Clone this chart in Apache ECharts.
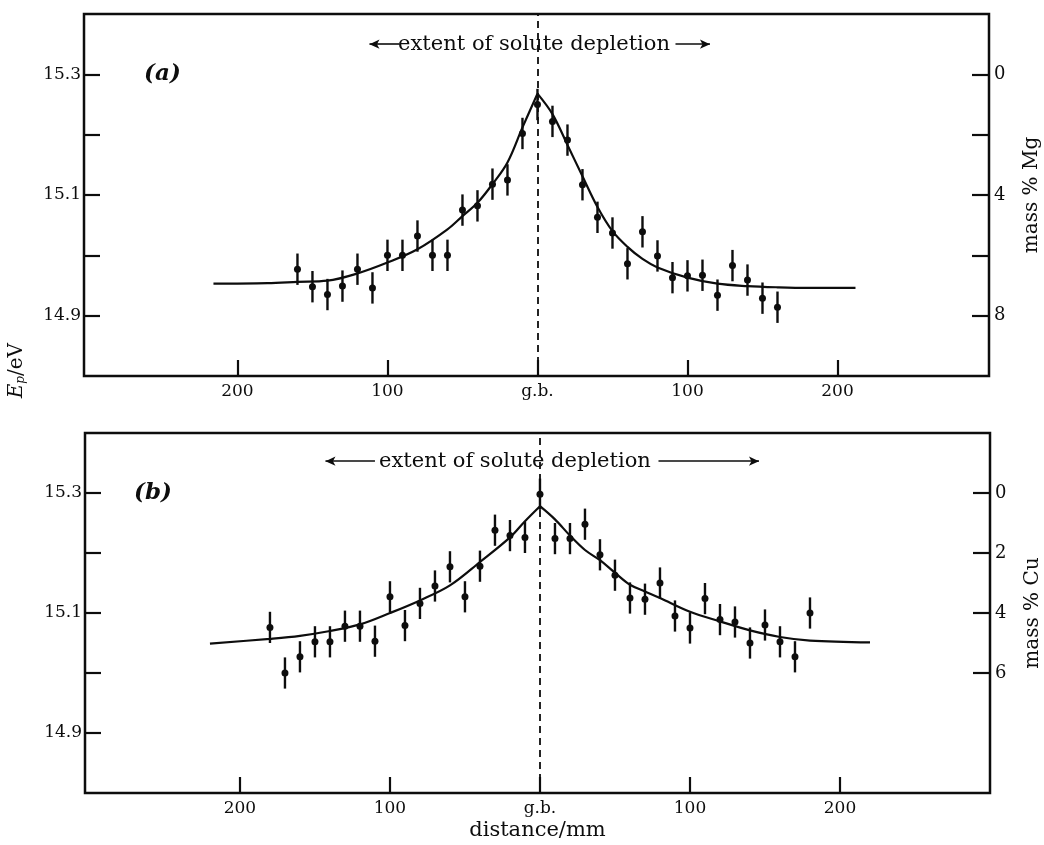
<!DOCTYPE html>
<html><head><meta charset="utf-8">
<script src="https://cdn.jsdelivr.net/npm/echarts@6/dist/echarts.min.js"></script>
<style>html,body{margin:0;padding:0;background:#fff}#c{width:1044px;height:845px}</style>
</head><body><div id="c"></div>
<script>
// ---- data (a): Al-Mg ----
const ptsA_x = [-160,-150,-140,-130,-120,-110,-100,-90,-80,-70,-60,-50,-40,-30,-20,-10,0,10,20,30,40,50,60,70,80,90,100,110,120,130,140,150,160];
const ptsA_y = [14.977,14.948,14.935,14.949,14.977,14.946,15.000,15.000,15.032,15.000,15.000,15.075,15.082,15.118,15.125,15.202,15.250,15.222,15.191,15.117,15.063,15.037,14.986,15.039,14.999,14.963,14.966,14.967,14.934,14.983,14.959,14.929,14.914];
const errA = 0.026;
const curveA_left_x = [-216,-180,-160,-140,-120,-100,-80,-60,-50,-40,-30,-20,-10,0];
const curveA_left_y = [14.953,14.954,14.956,14.958,14.970,14.988,15.010,15.043,15.065,15.087,15.118,15.154,15.212,15.268];
const curveA_right_x = [0,10,20,30,40,50,60,70,80,100,120,140,160,180,212];
const curveA_right_y = [15.268,15.234,15.183,15.131,15.080,15.040,15.014,14.994,14.980,14.963,14.953,14.949,14.947,14.946,14.946];

// ---- data (b): Al-Cu ----
const ptsB_x = [-180,-170,-160,-150,-140,-130,-120,-110,-100,-90,-80,-70,-60,-50,-40,-30,-20,-10,0,10,20,30,40,50,60,70,80,90,100,110,120,130,140,150,160,170,180];
const ptsB_y = [15.076,15.000,15.027,15.052,15.052,15.078,15.078,15.053,15.127,15.079,15.116,15.145,15.177,15.127,15.178,15.238,15.229,15.226,15.298,15.224,15.224,15.248,15.197,15.163,15.125,15.123,15.150,15.095,15.075,15.124,15.089,15.085,15.050,15.080,15.052,15.027,15.100];
const errB = 0.026;
const curveB_left_x = [-220,-180,-160,-140,-120,-100,-80,-60,-40,-20,-10,0];
const curveB_left_y = [15.049,15.057,15.062,15.070,15.081,15.100,15.121,15.146,15.185,15.226,15.253,15.278];
const curveB_right_x = [0,10,20,30,40,50,60,70,80,100,120,140,160,180,220];
const curveB_right_y = [15.278,15.256,15.229,15.205,15.188,15.167,15.147,15.136,15.125,15.102,15.086,15.071,15.060,15.054,15.051];

// ---- axis ticks / labels ----
const xTickVals = [-200,-100,0,100,200];
const eTickVals = [14.9,15.0,15.1,15.2,15.3];
const eLabelVals = [14.9,15.1,15.3];
const mgTickVals = [0,2,4,6,8];
const mgLabelVals = [0,4,8];
const cuTickVals = [0,2,4,6];
const cuLabelVals = [0,2,4,6];
const annotText = 'extent of solute depletion';

const INK = '#0d0d0d';
const FONT = 'DejaVu Serif';
const zip = (a,b) => a.map((v,i)=>[v,b[i]]);
const errData = (xs,ys,e) => xs.map((x,i)=>[x, ys[i]-e, ys[i]+e]);

function errRender(params, api){
  const p1 = api.coord([api.value(0), api.value(1)]);
  const p2 = api.coord([api.value(0), api.value(2)]);
  return {type:'line', shape:{x1:p1[0],y1:p1[1],x2:p2[0],y2:p2[1]}, style:{stroke:INK, lineWidth:2.4}};
}

function xAxisCfg(grid, min, max, name){
  return {
    type:'value', gridIndex:grid, min:min, max:max, position:'bottom',
    axisLine:{show:false, onZero:false}, splitLine:{show:false},
    axisTick:{show:true, inside:true, length:16, customValues:xTickVals, lineStyle:{color:INK,width:2.2}},
    axisLabel:{show:true, customValues:xTickVals, margin:7, color:INK, fontFamily:FONT, fontSize:17,
      formatter:v => v===0 ? 'g.b.' : String(Math.abs(v))},
    name:name||'', nameLocation:'middle', nameGap:27,
    nameTextStyle:{color:INK, fontFamily:FONT, fontSize:21}
  };
}
function eAxisCfg(grid){
  return {
    type:'value', gridIndex:grid, min:14.8, max:15.4, position:'left',
    axisLine:{show:false, onZero:false}, splitLine:{show:false},
    axisTick:{show:true, inside:true, length:16, customValues:eTickVals, lineStyle:{color:INK,width:2.2}},
    axisLabel:{show:true, customValues:eLabelVals, margin:3, color:INK, fontFamily:FONT, fontSize:17,
      formatter:v => v.toFixed(1)}
  };
}
function massAxisCfg(grid, ticks, labels, name){
  return {
    type:'value', gridIndex:grid, min:-2, max:10, inverse:true, position:'right',
    axisLine:{show:false, onZero:false}, splitLine:{show:false},
    axisTick:{show:true, inside:true, length:17, customValues:ticks, lineStyle:{color:INK,width:2.2}},
    axisLabel:{show:true, customValues:labels, margin:5, color:INK, fontFamily:FONT, fontSize:18},
    name:name, nameLocation:'middle', nameRotate:90, nameGap:33,
    nameTextStyle:{color:INK, fontFamily:FONT, fontSize:20}
  };
}
function curveSeries(xi, yi, xs, ys){
  return {type:'line', xAxisIndex:xi, yAxisIndex:yi, data:zip(xs,ys), smooth:0.35, symbol:'none',
    lineStyle:{color:INK, width:2.2}, z:3, silent:true};
}
function annotations(xi, yi, textX, y, la, ra, tagX, tag){
  return {type:'scatter', xAxisIndex:xi, yAxisIndex:yi, data:[], silent:true,
    markLine:{silent:true, symbol:['none','arrow'], symbolSize:[7,10], animation:false,
      lineStyle:{color:INK, width:1.6, type:'solid'}, label:{show:false},
      data:[ [{coord:[la[1],y]},{coord:[la[0],y]}], [{coord:[ra[0],y]},{coord:[ra[1],y]}] ]},
    markPoint:{silent:true, symbol:'circle', symbolSize:0, animation:false,
      data:[
        {coord:[textX,y], label:{show:true, position:'inside', formatter:annotText, color:INK, fontFamily:FONT, fontSize:21}},
        {coord:[tagX,15.3], label:{show:true, position:'inside', formatter:tag, color:INK, fontFamily:FONT, fontSize:23, fontStyle:'italic', fontWeight:'bold'}}
      ]}
  };
}

const option = {
  animation:false,
  backgroundColor:'#fff',
  grid:[
    {left:84, right:55, top:14, height:362, show:true, borderColor:INK, borderWidth:2.5, backgroundColor:'transparent', outerBoundsMode:'none', containLabel:false},
    {left:85, right:54, top:433, height:360, show:true, borderColor:INK, borderWidth:2.5, backgroundColor:'transparent', outerBoundsMode:'none', containLabel:false}
  ],
  xAxis:[ xAxisCfg(0,-302.3,301), xAxisCfg(1,-303.3,300,'distance/mm') ],
  yAxis:[ eAxisCfg(0), massAxisCfg(0, mgTickVals, mgLabelVals, 'mass % Mg'),
          eAxisCfg(1), massAxisCfg(1, cuTickVals, cuLabelVals, 'mass % Cu') ],
  graphic:[
    {type:'text', left:7, top:343, rotation:Math.PI/2, silent:true,
      style:{text:'{e|E}{p|p}{n|/eV}', fill:INK,
        rich:{e:{fontFamily:FONT, fontSize:20, fontStyle:'italic', fill:INK},
              p:{fontFamily:FONT, fontSize:12, fontStyle:'italic', fill:INK, verticalAlign:'bottom', padding:[8,0,0,0]},
              n:{fontFamily:FONT, fontSize:20, fill:INK}}}}
  ],
  series:[
    curveSeries(0,0,curveA_left_x,curveA_left_y),
    curveSeries(0,0,curveA_right_x,curveA_right_y),
    {type:'custom', xAxisIndex:0, yAxisIndex:0, renderItem:errRender, data:errData(ptsA_x,ptsA_y,errA), encode:{x:0,y:[1,2]}, z:4, silent:true},
    {type:'scatter', xAxisIndex:0, yAxisIndex:0, data:zip(ptsA_x,ptsA_y), symbol:'circle', symbolSize:7,
      itemStyle:{color:INK, opacity:1}, z:5, silent:true,
      markLine:{silent:true, symbol:['none','none'], label:{show:false}, animation:false,
        lineStyle:{color:INK, width:1.8, type:[7,5]}, data:[{xAxis:0}]}},
    annotations(0,0,-2.3,15.35,[-112,-92],[92,115],-250,'(a)'),

    curveSeries(1,2,curveB_left_x,curveB_left_y),
    curveSeries(1,2,curveB_right_x,curveB_right_y),
    {type:'custom', xAxisIndex:1, yAxisIndex:2, renderItem:errRender, data:errData(ptsB_x,ptsB_y,errB), encode:{x:0,y:[1,2]}, z:4, silent:true},
    {type:'scatter', xAxisIndex:1, yAxisIndex:2, data:zip(ptsB_x,ptsB_y), symbol:'circle', symbolSize:7,
      itemStyle:{color:INK, opacity:1}, z:5, silent:true,
      markLine:{silent:true, symbol:['none','none'], label:{show:false}, animation:false,
        lineStyle:{color:INK, width:1.8, type:[7,5]}, data:[{xAxis:0}]}},
    annotations(1,2,-16.7,15.353,[-143,-110],[79,146],-258,'(b)')
  ]
};
const chart = echarts.init(document.getElementById('c'), null, {renderer:'canvas'});
chart.setOption(option);
</script>
</body></html>
